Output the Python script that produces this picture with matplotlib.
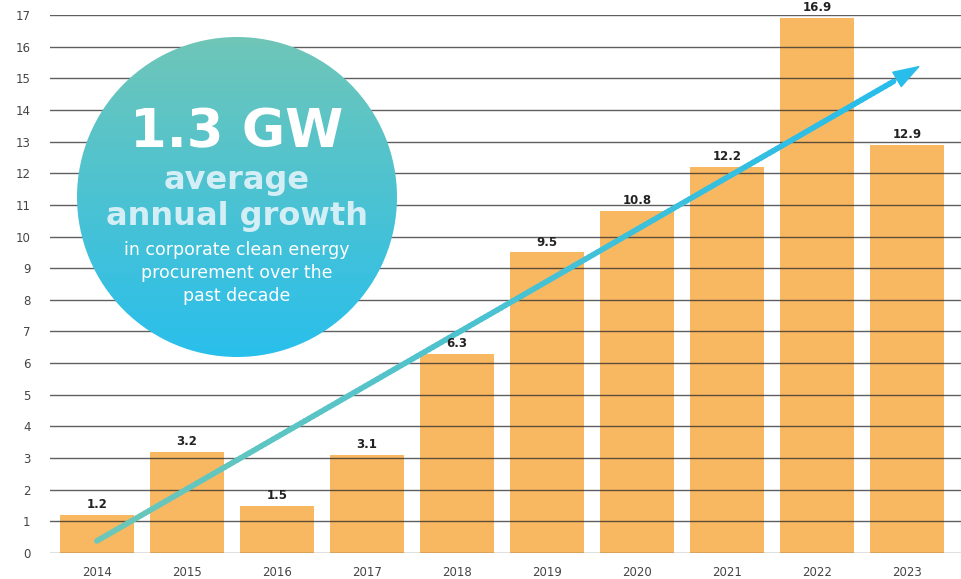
import numpy as np
import matplotlib.pyplot as plt
from matplotlib.collections import LineCollection
from matplotlib.patches import Circle
from matplotlib.colors import LinearSegmentedColormap

# Datos: adquisición corporativa de energía limpia (GW)
years = ['2014', '2015', '2016', '2017', '2018', '2019', '2020', '2021', '2022', '2023']
values = [1.2, 3.2, 1.5, 3.1, 6.3, 9.5, 10.8, 12.2, 16.9, 12.9]
y_ticks = list(range(0, 18))

# Flecha de tendencia (inicio y fin, en coordenadas de datos)
trend_x = [0.0, 9.15]
trend_y = [0.38, 15.4]

W, H = 961, 579
fig = plt.figure(figsize=(W / 100, H / 100), dpi=100)
plt.rcParams['font.family'] = ['DejaVu Sans']

ax = fig.add_axes([50 / W, (H - 553) / H, (W - 50) / W, (553 - 15) / H])
x = np.arange(len(years))
ax.bar(x, values, width=0.82, color='#F8B862', zorder=2)

for yv in y_ticks:
    ax.axhline(yv, color='#2a2a2a', lw=1, alpha=0.75, zorder=3)

for xi, v in zip(x, values):
    ax.text(xi, v + 0.12, f'{v}', ha='center', va='bottom', fontsize=8.5,
            fontweight='bold', color='#222222', zorder=5)

ax.set_xlim(-0.52, 9.6)
ax.set_ylim(0, 17)
ax.set_xticks(x)
ax.set_xticklabels(years)
ax.set_yticks(y_ticks)
ax.tick_params(length=0, labelsize=8.5, colors='#444444')
ax.tick_params(axis='y', pad=14)
ax.tick_params(axis='x', pad=9)
for s in ax.spines.values():
    s.set_visible(False)

# Flecha con degradado de verde azulado a azul
n = 200
tx = np.linspace(trend_x[0], trend_x[1] - 0.3, n)
ty = np.linspace(trend_y[0], trend_y[1] - 0.5, n)
pts = np.array([tx, ty]).T.reshape(-1, 1, 2)
segs = np.concatenate([pts[:-1], pts[1:]], axis=1)
grad = LinearSegmentedColormap.from_list('g', ['#6CC7B8', '#28BDEA'])
lc = LineCollection(segs, cmap=grad, lw=4, capstyle='round', zorder=4)
lc.set_array(np.linspace(0, 1, n - 1))
ax.add_collection(lc)
ax.annotate('', xy=(trend_x[1], trend_y[1]), xytext=(tx[-1], ty[-1]),
            arrowprops=dict(arrowstyle='-|>,head_length=1.8,head_width=0.6',
                            color='#28BDEA', lw=1, shrinkA=0, shrinkB=0),
            zorder=4)

# Círculo con degradado
cx, cy, r = 237, 197, 160
cax = fig.add_axes([(cx - r) / W, (H - cy - r) / H, 2 * r / W, 2 * r / H])
cax.set_xlim(0, 1)
cax.set_ylim(0, 1)
cax.axis('off')
cgrad = LinearSegmentedColormap.from_list('c', ['#29BFEC', '#6FC6B8'])
img = cax.imshow(np.linspace(0, 1, 256).reshape(-1, 1), cmap=cgrad,
                 extent=[0, 1, 0, 1], origin='lower', aspect='auto')
clip = Circle((0.5, 0.5), 0.5, transform=cax.transData)
img.set_clip_path(clip)

def ftext(px, py, s, **kw):
    fig.text(px / W, 1 - py / H, s, ha='center', va='center', **kw)

ftext(237, 132, '1.3 GW', fontsize=38, fontweight='bold', color='white')
ftext(237, 180, 'average', fontsize=23, fontweight='bold', color='#D4EEF6')
ftext(237, 216, 'annual growth', fontsize=23, fontweight='bold', color='#D4EEF6')
ftext(237, 250, 'in corporate clean energy', fontsize=12.5, color='white')
ftext(237, 273, 'procurement over the', fontsize=12.5, color='white')
ftext(237, 296, 'past decade', fontsize=12.5, color='white')

fig.savefig('out.png', dpi=100)
